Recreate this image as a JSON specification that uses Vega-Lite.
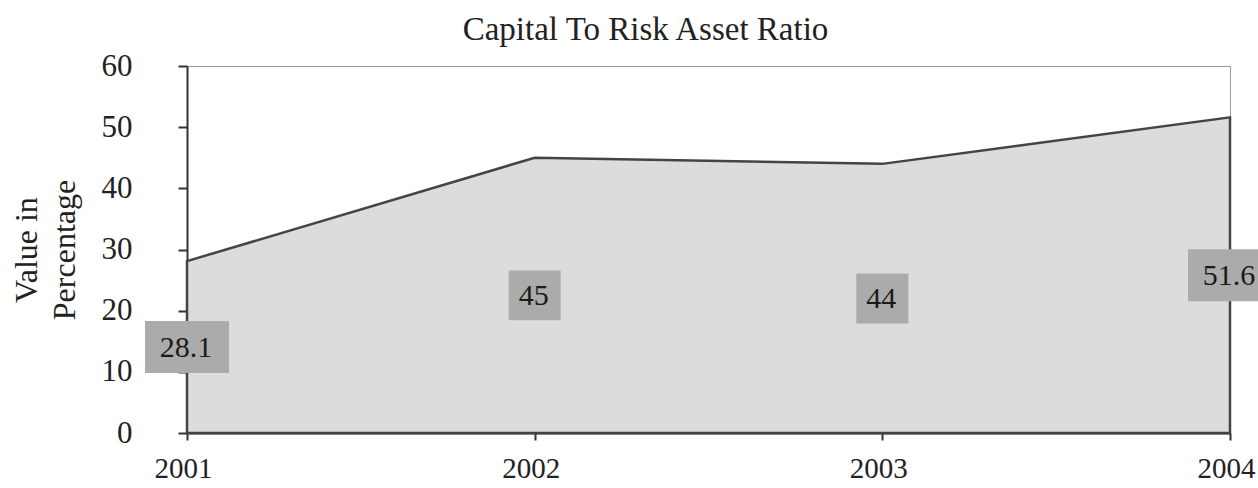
{
  "$schema": "https://vega.github.io/schema/vega-lite/v6.json",
  "width": 1043,
  "height": 367,
  "autosize": "none",
  "padding": {"left": 187, "top": 66, "right": 28, "bottom": 55},
  "background": "white",
  "title": {
    "text": "Capital To Risk Asset Ratio",
    "font": "Liberation Serif",
    "fontSize": 33,
    "fontWeight": "normal",
    "color": "#222222",
    "anchor": "middle",
    "frame": "group",
    "dx": -63,
    "baseline": "alphabetic",
    "offset": -23
  },
  "config": {
    "view": {"stroke": "#9a9a9a", "strokeWidth": 1},
    "axis": {
      "labelFont": "Liberation Serif",
      "titleFont": "Liberation Serif",
      "labelColor": "#222222",
      "titleColor": "#222222",
      "domainColor": "#333333",
      "tickColor": "#333333",
      "domainWidth": 2,
      "tickWidth": 2,
      "grid": false
    }
  },
  "data": {
    "values": [
      {"year": 2001, "value": 28.1, "label": "28.1"},
      {"year": 2002, "value": 45, "label": "45"},
      {"year": 2003, "value": 44, "label": "44"},
      {"year": 2004, "value": 51.6, "label": "51.6"}
    ]
  },
  "encoding": {
    "x": {
      "field": "year",
      "type": "quantitative",
      "scale": {"domain": [2001, 2004], "nice": false, "zero": false},
      "axis": {
        "title": null,
        "values": [2001, 2002, 2003, 2004],
        "format": "d",
        "labelFontSize": 29,
        "tickSize": 7,
        "labelPadding": 14,
        "labelOffset": -4,
        "labelFlush": false
      }
    }
  },
  "layer": [
    {
      "mark": {"type": "area", "color": "#dcdcdc", "opacity": 1, "stroke": "#444444", "strokeWidth": 2.5},
      "encoding": {
        "y": {
          "field": "value",
          "type": "quantitative",
          "scale": {"domain": [0, 60], "nice": false},
          "axis": {
            "title": ["Value in", "Percentage"],
            "titleFontSize": 32,
            "titleFontWeight": "normal",
            "titleLineHeight": 38,
            "titlePadding": 20,
            "values": [0, 10, 20, 30, 40, 50, 60],
            "labelFontSize": 31,
            "tickSize": 9,
            "labelPadding": 46
          }
        }
      }
    },
    {
      "transform": [{"calculate": "datum.value / 2", "as": "mid"}],
      "mark": {"type": "point", "filled": true, "opacity": 1, "color": "#ababab", "strokeWidth": 0},
      "encoding": {
        "y": {"field": "mid", "type": "quantitative"},
        "shape": {
          "condition": {"test": "length(datum.label) > 2", "value": "M-1,-0.62H1V0.62H-1Z"},
          "value": "M-1,-0.96H1V0.96H-1Z"
        },
        "size": {
          "condition": {"test": "length(datum.label) > 2", "value": 7056},
          "value": 2704
        }
      }
    },
    {
      "transform": [{"calculate": "datum.value / 2", "as": "mid"}],
      "mark": {"type": "text", "font": "Liberation Serif", "fontSize": 30, "color": "#1a1a1a", "baseline": "middle", "align": "center", "dy": 1, "dx": -1},
      "encoding": {
        "y": {"field": "mid", "type": "quantitative"},
        "text": {"field": "label", "type": "nominal"}
      }
    }
  ]
}
